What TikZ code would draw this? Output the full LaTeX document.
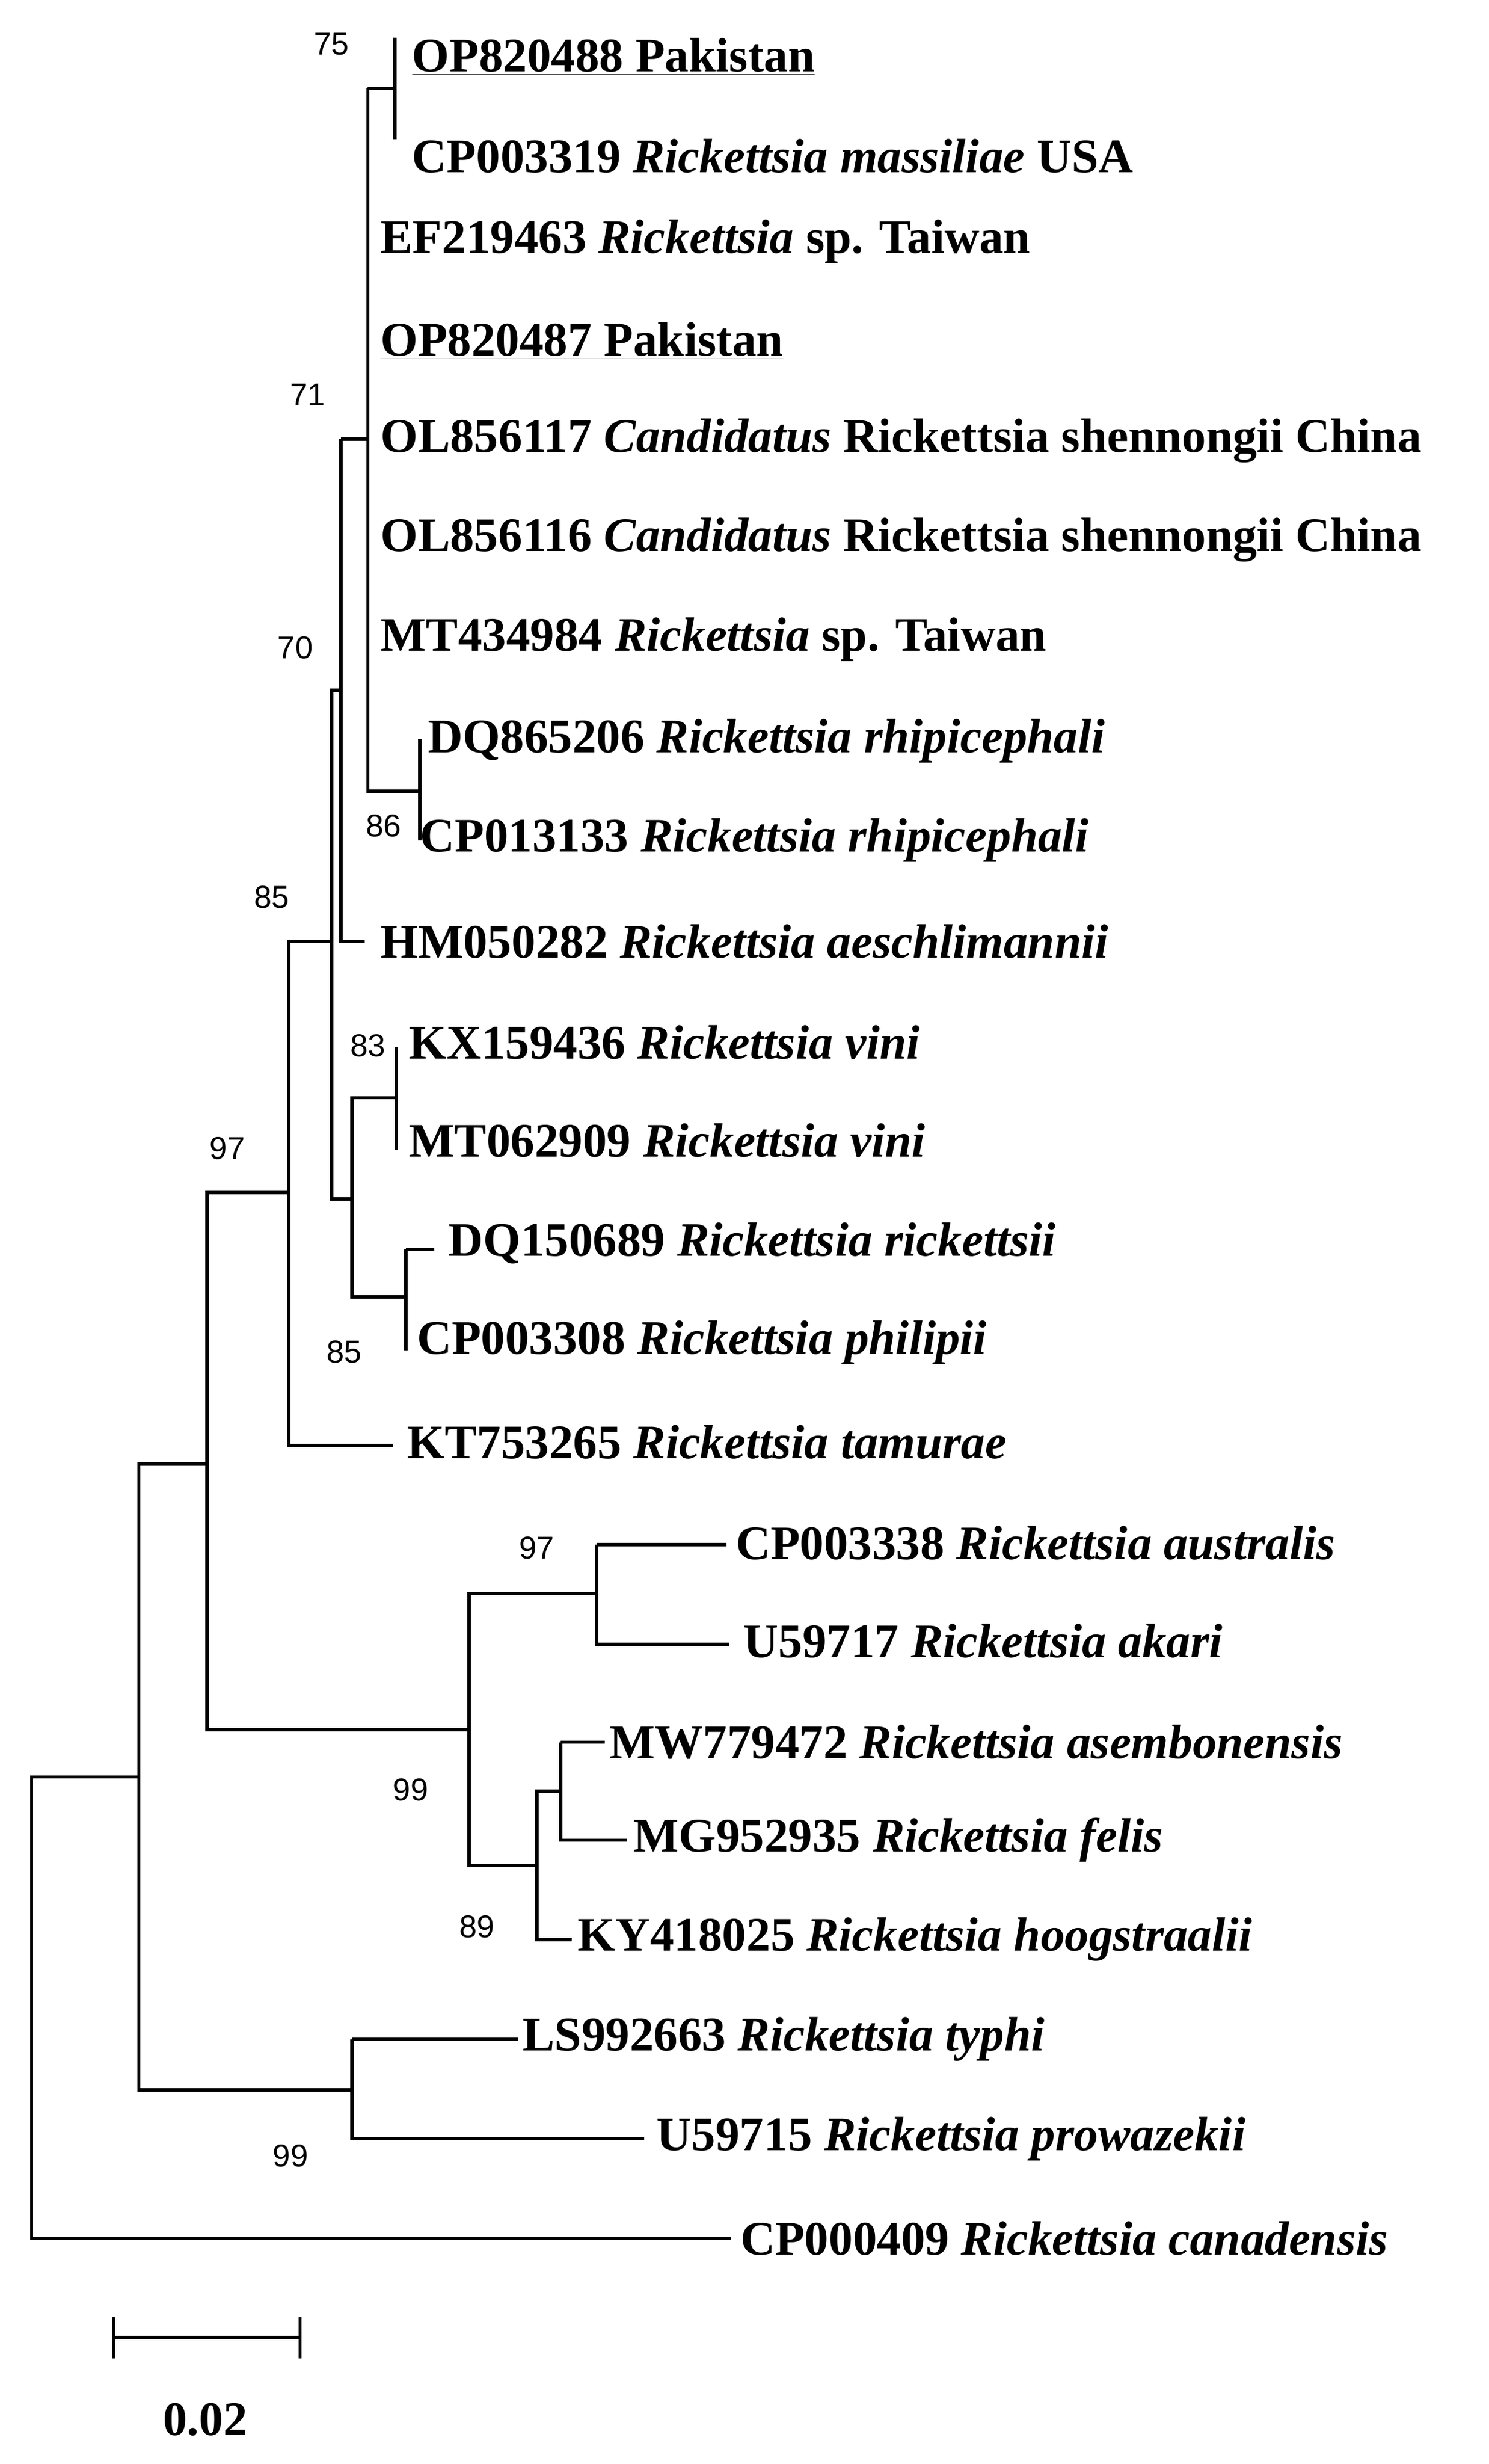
\documentclass[tikz,border=0pt]{standalone}
\usepackage{fontspec}
\setmainfont{Liberation Serif}
\newfontfamily\numfont{Liberation Sans}
\begin{document}
\begin{tikzpicture}[x=1pt,y=-1pt,line width=2.1pt,
  lf/.style={anchor=west,inner sep=0pt,font=\fontsize{30.5}{30}\selectfont\bfseries},
  bs/.style={inner sep=0pt,font=\fontsize{20}{20}\selectfont\numfont}]
\useasboundingbox (0,0) rectangle (943,1560);
% leaf labels
\node[lf] (l0) at (260,36) {\underline{OP820488 Pakistan}};
\node[lf] (l1) at (260,99) {CP003319 \textit{Rickettsia massiliae} USA};
\node[lf] (l2) at (240,153) {EF219463 \textit{Rickettsia} sp. Taiwan};
\node[lf] (l3) at (240,216) {\underline{OP820487 Pakistan}};
\node[lf] (l4) at (240,279) {OL856117 \textit{Candidatus} Rickettsia shennongii China};
\node[lf] (l5) at (240,342) {OL856116 \textit{Candidatus} Rickettsia shennongii China};
\node[lf] (l6) at (240,405) {MT434984 \textit{Rickettsia} sp. Taiwan};
\node[lf] (l7) at (270,469) {DQ865206 \textit{Rickettsia rhipicephali}};
\node[lf] (l8) at (265,532) {CP013133 \textit{Rickettsia rhipicephali}};
\node[lf] (l9) at (240,596) {HM050282 \textit{Rickettsia aeschlimannii}};
\node[lf] (l10) at (258,660) {KX159436 \textit{Rickettsia vini}};
\node[lf] (l11) at (258,722) {MT062909 \textit{Rickettsia vini}};
\node[lf] (l12) at (283,787) {DQ150689 \textit{Rickettsia rickettsii}};
\node[lf] (l13) at (263,850) {CP003308 \textit{Rickettsia philipii}};
\node[lf] (l14) at (257,913) {KT753265 \textit{Rickettsia tamurae}};
\node[lf] (l15) at (465,977) {CP003338 \textit{Rickettsia australis}};
\node[lf] (l16) at (470,1039) {U59717 \textit{Rickettsia akari}};
\node[lf] (l17) at (385,1103) {MW779472 \textit{Rickettsia asembonensis}};
\node[lf] (l18) at (400,1165) {MG952935 \textit{Rickettsia felis}};
\node[lf] (l19) at (365,1228) {KY418025 \textit{Rickettsia hoogstraalii}};
\node[lf] (l20) at (330,1291) {LS992663 \textit{Rickettsia typhi}};
\node[lf] (l21) at (415,1354) {U59715 \textit{Rickettsia prowazekii}};
\node[lf] (l22) at (468,1417) {CP000409 \textit{Rickettsia canadensis}};
% internal node coordinates
\coordinate (n250) at (250,56);
\coordinate (n266) at (266,501);
\coordinate (n233) at (233,278);
\coordinate (n216) at (216,437);
\coordinate (n251) at (251,695);
\coordinate (n257) at (257,821);
\coordinate (n223) at (223,759);
\coordinate (n210) at (210,596);
\coordinate (n183) at (183,755);
\coordinate (n378) at (378,1009);
\coordinate (n355) at (355,1134);
\coordinate (n340) at (340,1181);
\coordinate (n297) at (297,1095);
\coordinate (n131) at (131,927);
\coordinate (t223) at (223,1323);
\coordinate (n88) at (88,1125);
% branches
\draw (250,24) -- (250,88);
\draw (266,468) -- (266,532) (266,501) -- (n266);
\draw (233,56) -- (n250) (233,56) -- (233,501) -- (n266);
\draw (216,278) -- (n233) (216,278) -- (216,596) -- (231,596);
\draw (251,663) -- (251,728);
\draw (257,791) -- (257,855) (257,791) -- (275,791);
\draw (n251) -| (n223) |- (n257);
\draw (n216) -| (n210) |- (n223);
\draw (n210) -| (n183) |- (249,915);
\draw (378,978) -- (460,978) (378,978) -- (378,1041) -- (462,1041);
\draw (355,1103) -- (383,1103) (355,1103) -- (355,1165) -- (397,1165);
\draw (n355) -| (n340) |- (362,1228);
\draw (n378) -| (n297) |- (n340);
\draw (n183) -| (n131) |- (n297);
\draw (223,1291) -- (328,1291) (223,1291) -- (223,1354) -- (408,1354);
\draw (n131) -| (n88) |- (t223);
\draw (n88) -| (20,1417) -- (463,1417);
% bootstrap values
\node[bs] (b1) at (210,28) {75};
\node[bs] (b2) at (195,250) {71};
\node[bs] (b3) at (187,410) {70};
\node[bs] (b4) at (243,523) {86};
\node[bs] (b5) at (172,568) {85};
\node[bs] (b6) at (233,662) {83};
\node[bs] (b7) at (144,727) {97};
\node[bs] (b8) at (218,856) {85};
\node[bs] (b9) at (340,980) {97};
\node[bs] (b10) at (260,1133) {99};
\node[bs] (b11) at (302,1220) {89};
\node[bs] (b12) at (184,1365) {99};
% scale bar
\draw (72,1480) -- (190,1480) (72,1467) -- (72,1493) (190,1467) -- (190,1493);
\node[lf,anchor=center] (sl) at (130,1532) {0.02};
\end{tikzpicture}
\end{document}
